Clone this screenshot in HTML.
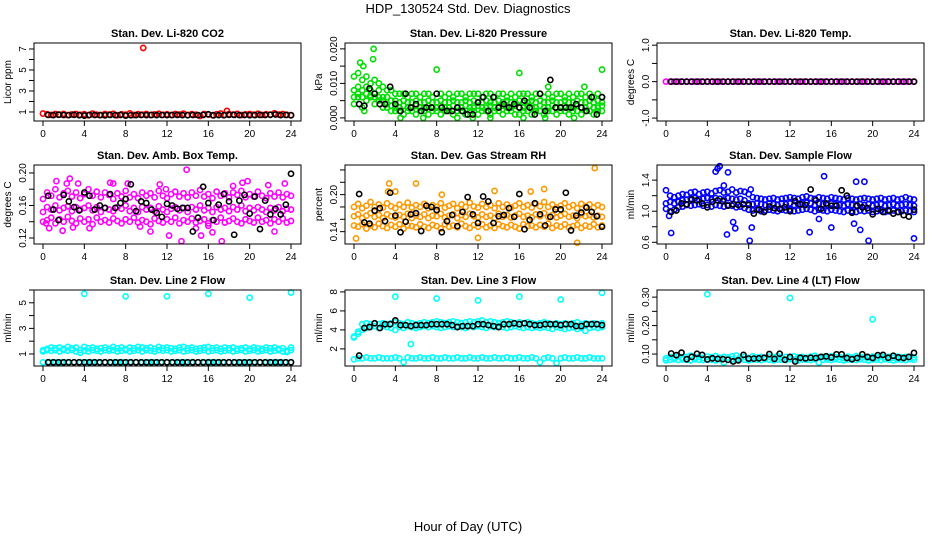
<!DOCTYPE html>
<html><head><meta charset="utf-8"><style>
body{margin:0;background:#fff;}
svg{display:block;font-family:"Liberation Sans",Arial,sans-serif;}
</style></head><body>
<svg id="chart" width="936" height="540" viewBox="0 0 936 540">
<text x="468" y="13" text-anchor="middle" font-size="13">HDP_130524  Std. Dev. Diagnostics</text>
<text x="468" y="531" text-anchor="middle" font-size="13">Hour of Day (UTC)</text>
</svg>
<script>
// ---- data ----
const blackHours = [0.5,1,1.5,2,2.5,3,3.5,4,4.5,5,5.5,6,6.5,7,7.5,8,8.5,9,9.5,10,10.5,11,11.5,12,12.5,13,13.5,14,14.5,15,15.5,16,16.5,17,17.5,18,18.5,19,19.5,20,20.5,21,21.5,22,22.5,23,23.5,24];
const xTicks = [0,4,8,12,16,20,24];

const co2A = [0.85,0.78,0.72,0.80,0.74,0.82,0.70,0.77,0.81,0.73,0.79,0.68,0.84,0.75,0.71,0.80,0.76,0.83,0.69,0.78,0.74,0.86,0.72,0.79,0.75,0.81,0.70,0.77,0.83,0.73,0.78,0.71,0.80,0.76,0.84,0.72,0.79,0.74,0.62,0.81,0.75,0.70,0.78,0.85,0.73,0.79,0.76,0.82,0.71,0.77,0.80,0.74,0.83,0.72,0.78,0.75,0.88,0.76,0.81,0.73,0.70];
const co2Black = [0.72,0.70,0.74,0.71,0.70,0.73,0.69,0.66,0.72,0.71,0.70,0.68,0.72,0.70,0.71,0.66,0.69,0.70,0.71,0.70,0.72,0.70,0.71,0.70,0.71,0.72,0.70,0.69,0.71,0.70,0.72,0.78,0.68,0.70,0.69,0.73,0.72,0.70,0.71,0.69,0.70,0.72,0.71,0.73,0.76,0.70,0.72,0.68];
const co2OutHours = [9.7,17.8];
const co2OutVals = [7.1,1.1];

const presA = [0.012,0.013,0.011,0.012,0.010,0.011,0.010,0.009,0.008,0.008,0.007,0.007,0.007,0.006,0.007,0.007,0.006,0.007,0.007,0.006,0.007,0.007,0.006,0.007,0.006,0.007,0.007,0.006,0.007,0.007,0.007,0.006,0.007,0.007,0.006,0.007,0.007,0.006,0.007,0.006,0.007,0.007,0.007,0.006,0.007,0.007,0.006,0.007,0.006,0.007,0.007,0.006,0.007,0.006,0.007,0.007,0.006,0.007,0.006,0.007,0.006];
const presB = [0.006,0.009,0.008,0.009,0.008,0.007,0.008,0.006,0.006,0.005,0.005,0.0045,0.005,0.0045,0.0045,0.005,0.0045,0.0045,0.005,0.0045,0.0045,0.005,0.0045,0.0045,0.005,0.0045,0.0045,0.005,0.0045,0.005,0.0045,0.0045,0.005,0.0045,0.0045,0.005,0.0045,0.005,0.0045,0.0045,0.005,0.0045,0.0045,0.005,0.0045,0.005,0.0045,0.0045,0.005,0.0045,0.0045,0.005,0.0045,0.0045,0.005,0.0045,0.0045,0.005,0.0045,0.005,0.0045];
const presC = [0.008,0.007,0.006,0.007,0.0065,0.006,0.006,0.005,0.004,0.0035,0.003,0.003,0.0035,0.003,0.003,0.0035,0.003,0.003,0.0035,0.003,0.003,0.0035,0.003,0.003,0.0035,0.003,0.003,0.0035,0.003,0.003,0.0035,0.003,0.003,0.0035,0.003,0.003,0.0035,0.003,0.003,0.0035,0.003,0.003,0.0035,0.003,0.003,0.0035,0.003,0.003,0.0035,0.003,0.003,0.0035,0.003,0.003,0.0035,0.003,0.003,0.0035,0.003,0.003,0.0035];
const presD = [0.004,0.006,0.003,0.005,0.006,0.004,0.005,0.003,0.003,0.002,0.002,0.002,0.001,0.002,0.002,0.001,0.002,0.002,0.001,0.002,0.002,0.001,0.002,0.002,0.001,0.002,0.002,0.001,0.002,0.002,0.001,0.002,0.002,0.001,0.002,0.002,0.001,0.002,0.002,0.001,0.001,0.002,0.002,0.001,0.002,0.002,0.001,0.002,0.002,0.001,0.002,0.002,0.001,0.002,0.002,0.001,0.002,0.002,0.001,0.002,0.002];
const presBlack = [0.004,0.0035,0.0085,0.007,0.004,0.004,0.009,0.004,0.002,0.007,0.003,0.004,0.002,0.003,0.003,0.007,0.003,0.002,0.002,0.003,0.002,0.001,0.001,0.0045,0.006,0.002,0.006,0.003,0.004,0.003,0.004,0.003,0.005,0.003,0.001,0.007,0.002,0.011,0.003,0.003,0.003,0.003,0.004,0.003,0.002,0.006,0.001,0.006];
const presOutHours = [0.6,0.9,1.9,1.85,8.0,16.0,24,18.8,22.3,4.5,6.7,10.0,11.5,13.2,16.4,18.5,21.3,1.0];
const presOutVals = [0.016,0.015,0.020,0.017,0.014,0.013,0.014,0.009,0.009,0.0,0.0,0.0,0.0,0.0,0.0,0.0,0.0,0.002];

const tempA = [0,0,0,0,0,0,0,0,0,0,0,0,0,0,0,0,0,0,0,0,0,0,0,0,0,0,0,0,0,0,0,0,0,0,0,0,0,0,0,0,0,0,0,0,0,0,0,0,0,0,0,0,0,0,0,0,0,0,0,0,0];
const tempBlack = [0,0,0,0,0,0,0,0,0,0,0,0,0,0,0,0,0,0,0,0,0,0,0,0,0,0,0,0,0,0,0,0,0,0,0,0,0,0,0,0,0,0,0,0,0,0,0,0];

const ambA = [0.168,0.176,0.172,0.18,0.17,0.175,0.178,0.171,0.176,0.169,0.174,0.18,0.172,0.177,0.17,0.176,0.173,0.168,0.175,0.171,0.178,0.17,0.174,0.169,0.176,0.172,0.175,0.17,0.178,0.172,0.169,0.174,0.177,0.171,0.175,0.17,0.176,0.172,0.179,0.171,0.174,0.169,0.177,0.172,0.175,0.17,0.176,0.173,0.178,0.17,0.174,0.171,0.177,0.172,0.169,0.175,0.171,0.176,0.17,0.174,0.172];
const ambB = [0.152,0.158,0.155,0.16,0.154,0.157,0.159,0.153,0.158,0.155,0.157,0.16,0.154,0.158,0.152,0.157,0.155,0.153,0.158,0.156,0.16,0.153,0.157,0.152,0.158,0.155,0.157,0.153,0.159,0.155,0.152,0.156,0.158,0.154,0.157,0.152,0.158,0.155,0.16,0.154,0.157,0.152,0.158,0.155,0.157,0.153,0.158,0.155,0.16,0.153,0.157,0.154,0.158,0.155,0.152,0.157,0.154,0.158,0.153,0.156,0.155];
const ambC = [0.14,0.142,0.145,0.138,0.143,0.14,0.146,0.141,0.138,0.144,0.14,0.143,0.137,0.145,0.14,0.142,0.139,0.144,0.141,0.138,0.143,0.14,0.145,0.139,0.142,0.14,0.137,0.144,0.141,0.139,0.143,0.14,0.145,0.138,0.142,0.14,0.144,0.139,0.141,0.143,0.138,0.142,0.14,0.145,0.139,0.141,0.144,0.14,0.138,0.143,0.141,0.139,0.145,0.14,0.142,0.138,0.143,0.14,0.144,0.139,0.141];
const ambBlack = [0.172,0.155,0.142,0.173,0.165,0.158,0.154,0.176,0.172,0.155,0.16,0.157,0.174,0.157,0.163,0.168,0.186,0.153,0.165,0.163,0.155,0.151,0.146,0.162,0.16,0.156,0.157,0.157,0.128,0.145,0.183,0.163,0.142,0.161,0.174,0.165,0.124,0.166,0.173,0.15,0.171,0.131,0.166,0.149,0.156,0.149,0.161,0.199];
const ambOutHours = [0.6,1.3,1.9,2.3,2.6,3.4,4.5,6.5,6.8,8.2,9.4,10.4,11.3,12.2,13.4,13.9,14.8,15.3,16.4,17.3,18.4,19.3,19.8,21.8,22.4,23.4,0.3,2.9,11.9,16.0];
const ambOutVals = [0.132,0.19,0.129,0.187,0.193,0.187,0.132,0.188,0.187,0.187,0.134,0.128,0.186,0.123,0.116,0.204,0.132,0.123,0.127,0.116,0.184,0.188,0.19,0.185,0.128,0.187,0.138,0.133,0.18,0.135];

const rhA = [0.18,0.185,0.178,0.182,0.188,0.18,0.184,0.179,0.186,0.181,0.178,0.184,0.18,0.187,0.179,0.183,0.18,0.185,0.178,0.183,0.18,0.186,0.179,0.182,0.185,0.178,0.184,0.18,0.187,0.181,0.179,0.185,0.18,0.183,0.178,0.186,0.18,0.184,0.179,0.182,0.186,0.18,0.183,0.179,0.185,0.181,0.188,0.18,0.184,0.179,0.182,0.186,0.18,0.183,0.178,0.185,0.181,0.184,0.179,0.183,0.18];
const rhB = [0.165,0.168,0.162,0.166,0.17,0.164,0.167,0.162,0.168,0.165,0.163,0.167,0.164,0.169,0.162,0.166,0.164,0.168,0.162,0.166,0.165,0.169,0.163,0.166,0.168,0.162,0.167,0.164,0.169,0.165,0.163,0.168,0.164,0.166,0.162,0.169,0.164,0.167,0.163,0.166,0.169,0.164,0.166,0.163,0.168,0.165,0.17,0.164,0.167,0.163,0.166,0.169,0.164,0.166,0.162,0.168,0.165,0.167,0.163,0.166,0.164];
const rhC = [0.15,0.148,0.152,0.145,0.15,0.147,0.153,0.149,0.146,0.151,0.148,0.152,0.145,0.15,0.149,0.147,0.152,0.148,0.146,0.151,0.149,0.145,0.152,0.148,0.15,0.147,0.153,0.149,0.146,0.151,0.148,0.152,0.147,0.15,0.146,0.152,0.149,0.147,0.151,0.148,0.145,0.152,0.149,0.15,0.147,0.151,0.148,0.153,0.146,0.15,0.148,0.152,0.147,0.149,0.151,0.146,0.15,0.148,0.152,0.147,0.15];
const rhBlack = [0.201,0.155,0.153,0.174,0.178,0.157,0.203,0.166,0.139,0.156,0.168,0.17,0.141,0.182,0.18,0.175,0.139,0.157,0.167,0.149,0.172,0.196,0.168,0.154,0.197,0.189,0.154,0.165,0.167,0.178,0.164,0.201,0.144,0.159,0.186,0.168,0.15,0.164,0.176,0.176,0.203,0.142,0.166,0.171,0.179,0.172,0.165,0.148];
const rhOutHours = [0.2,3.4,6.0,3.3,13.6,17.1,21.6,23.3,18.4,8.5,4.0,12.0];
const rhOutVals = [0.129,0.218,0.218,0.205,0.206,0.205,0.122,0.243,0.209,0.2,0.205,0.13];

const sfA = [1.27,1.2,1.18,1.2,1.22,1.21,1.24,1.25,1.22,1.24,1.25,1.23,1.26,1.27,1.24,1.25,1.28,1.24,1.26,1.25,1.22,1.18,1.17,1.16,1.15,1.16,1.17,1.15,1.16,1.17,1.18,1.17,1.16,1.18,1.19,1.17,1.16,1.18,1.17,1.16,1.18,1.17,1.16,1.15,1.17,1.16,1.15,1.16,1.17,1.16,1.15,1.16,1.17,1.15,1.16,1.17,1.15,1.16,1.18,1.16,1.15];
const sfB = [1.1,1.12,1.1,1.12,1.14,1.15,1.16,1.17,1.15,1.16,1.17,1.15,1.17,1.16,1.15,1.17,1.16,1.15,1.16,1.14,1.1,1.09,1.1,1.09,1.08,1.1,1.09,1.08,1.1,1.09,1.1,1.08,1.09,1.1,1.11,1.1,1.08,1.1,1.09,1.08,1.1,1.09,1.08,1.07,1.09,1.08,1.07,1.09,1.08,1.09,1.07,1.08,1.09,1.07,1.08,1.09,1.07,1.08,1.09,1.08,1.07];
const sfC = [1.03,1.0,1.02,1.05,1.06,1.08,1.07,1.08,1.09,1.07,1.08,1.06,1.08,1.07,1.06,1.08,1.07,1.05,1.06,1.04,1.02,1.01,1.02,1.0,1.01,1.02,1.01,1.0,1.02,1.01,1.02,1.0,1.01,1.02,1.03,1.02,1.0,1.02,1.01,1.0,1.02,1.01,1.0,0.99,1.01,1.0,0.99,1.01,1.0,1.01,0.99,1.0,1.01,0.99,1.0,1.01,0.99,1.0,1.01,1.0,0.99];
const sfBlack = [0.99,1.01,1.1,1.09,1.15,1.14,1.1,1.05,1.12,1.14,1.13,1.07,1.09,1.08,1.09,1.08,0.97,1.02,0.99,1.06,1.04,1.03,1.05,1.0,1.13,1.09,1.08,1.28,1.14,1.03,1.1,1.07,1.07,1.27,1.2,0.98,1.07,1.05,1.04,0.96,1.03,0.99,1.01,0.97,0.99,0.95,0.93,1.02];
const sfOutHours = [0.3,0.5,4.8,5.0,5.2,5.6,5.9,6.5,6.7,8.1,8.3,8.2,13.9,14.8,15.3,16.0,18.2,18.4,18.8,19.6,24.0,6.0,19.2];
const sfOutVals = [0.94,0.72,1.51,1.55,1.58,1.33,0.70,0.86,0.78,0.62,0.79,1.28,0.73,0.9,1.45,0.79,0.84,1.38,0.76,0.62,0.65,1.5,1.38];

const l2A = [1.2,1.4,1.5,1.45,1.5,1.4,1.55,1.45,1.5,1.1,1.55,1.45,1.5,1.4,1.45,1.5,1.4,1.55,1.45,1.5,1.4,1.5,1.45,1.55,1.5,1.45,1.5,1.4,1.55,1.45,1.5,1.45,1.4,1.5,1.55,1.45,1.5,1.4,1.45,1.5,1.55,1.45,1.5,1.4,1.5,1.45,1.5,1.4,1.45,1.5,1.4,1.5,1.45,1.4,1.5,1.45,1.5,1.4,1.45,1.15,1.5];
const l2B = [1.3,1.3,1.25,1.3,1.2,1.3,1.25,1.3,1.2,1.3,1.25,1.2,1.3,1.25,1.2,1.3,1.25,1.3,1.2,1.25,1.3,1.2,1.25,1.3,1.2,1.3,1.25,1.2,1.3,1.25,1.3,1.2,1.25,1.3,1.2,1.25,1.3,1.2,1.25,1.3,1.2,1.25,1.3,1.2,1.25,1.3,1.2,1.25,1.3,1.2,1.25,1.3,1.2,1.25,1.3,1.2,1.25,1.3,1.2,1.25,1.3];
const l2Low = [0.35,0.35,0.35,0.35,0.35,0.35,0.35,0.35,0.35,0.35,0.35,0.35,0.35,0.35,0.35,0.35,0.35,0.35,0.35,0.35,0.35,0.35,0.35,0.35,0.35,0.35,0.35,0.35,0.35,0.35,0.35,0.35,0.35,0.35,0.35,0.35,0.35,0.35,0.35,0.35,0.35];
const l2Black = [0.35,0.35,0.35,0.35,0.35,0.35,0.35,0.35,0.35,0.35,0.35,0.35,0.35,0.35,0.35,0.35,0.35,0.35,0.35,0.35,0.35,0.35,0.35,0.35,0.35,0.35,0.35,0.35,0.35,0.35,0.35,0.35,0.35,0.35,0.35,0.35,0.35,0.35,0.35,0.35,0.35,0.35,0.35,0.35,0.35,0.35,0.35,0.35];
const l2OutHours = [4,8,12,16,20,24];
const l2OutVals = [5.7,5.5,5.5,5.7,5.4,5.8];

const l3A = [3.3,3.8,4.6,4.7,4.6,4.7,4.6,4.7,4.6,4.7,4.8,4.7,4.6,4.8,4.7,4.6,4.7,4.8,4.7,4.8,4.9,4.8,4.7,4.8,4.9,4.8,4.7,4.8,4.9,4.8,4.9,5.0,4.8,4.9,4.8,4.7,4.8,4.9,4.8,4.7,4.8,4.7,4.8,4.7,4.6,4.7,4.8,4.7,4.6,4.7,4.6,4.7,4.6,4.7,4.8,4.6,4.7,4.6,4.7,4.6,4.7];
const l3B = [3.2,3.6,4.0,4.2,4.3,4.4,4.2,4.4,4.3,4.2,4.0,4.3,4.2,4.4,4.3,4.2,4.3,4.4,4.3,4.4,4.3,4.2,4.3,4.4,4.3,4.4,4.3,4.2,4.4,4.3,4.4,4.3,4.2,4.4,4.3,4.4,4.3,4.2,4.3,4.4,4.3,4.2,4.3,4.2,4.3,4.2,4.3,4.2,4.1,4.3,4.2,4.1,4.2,4.3,4.1,4.2,3.9,4.2,4.3,4.2,4.3];
const l3Low = [0.9,1.0,1.0,1.1,1.0,1.0,1.1,1.0,1.0,1.0,1.1,1.0,0.6,1.1,1.0,1.0,1.1,1.0,1.0,1.1,1.0,1.0,1.1,1.0,1.0,1.1,1.0,1.0,1.1,1.0,1.0,1.1,1.0,1.0,1.1,1.0,1.0,1.1,1.0,1.0,1.1,1.0,1.0,1.1,1.0,0.6,1.0,1.1,1.0,0.5,1.0,1.1,1.0,1.0,1.1,1.0,1.0,1.1,1.0,1.0,1.0];
const l3Black = [1.3,4.2,4.3,4.7,4.2,4.6,4.6,5.0,4.5,4.5,4.4,4.5,4.5,4.5,4.6,4.6,4.6,4.6,4.5,4.3,4.4,4.4,4.4,4.6,4.6,4.5,4.4,4.3,4.6,4.6,4.7,4.6,4.7,4.6,4.5,4.5,4.6,4.6,4.6,4.5,4.6,4.6,4.4,4.4,4.6,4.6,4.6,4.5];
const l3OutHours = [4,8,12,16,20,24,5.5];
const l3OutVals = [7.5,7.3,7.1,7.5,7.2,7.9,2.5];

const l4A = [0.085,0.09,0.088,0.092,0.087,0.09,0.094,0.088,0.09,0.086,0.091,0.089,0.093,0.087,0.09,0.088,0.092,0.095,0.089,0.09,0.086,0.092,0.088,0.09,0.087,0.091,0.089,0.093,0.088,0.09,0.086,0.092,0.089,0.09,0.087,0.091,0.094,0.088,0.09,0.087,0.092,0.089,0.09,0.086,0.091,0.088,0.093,0.089,0.09,0.087,0.091,0.088,0.092,0.089,0.09,0.087,0.091,0.088,0.09,0.089,0.088];
const l4B = [0.078,0.08,0.082,0.079,0.081,0.08,0.078,0.082,0.08,0.079,0.081,0.08,0.078,0.082,0.07,0.08,0.081,0.079,0.082,0.08,0.078,0.081,0.08,0.079,0.082,0.08,0.078,0.081,0.08,0.079,0.082,0.08,0.078,0.081,0.08,0.079,0.082,0.07,0.08,0.081,0.079,0.082,0.08,0.078,0.081,0.08,0.079,0.082,0.08,0.078,0.081,0.08,0.079,0.082,0.08,0.078,0.081,0.08,0.079,0.082,0.08];
const l4Black = [0.102,0.096,0.105,0.082,0.09,0.101,0.097,0.081,0.085,0.083,0.082,0.08,0.074,0.078,0.097,0.084,0.084,0.085,0.087,0.1,0.083,0.101,0.08,0.09,0.074,0.087,0.085,0.087,0.086,0.09,0.092,0.088,0.099,0.099,0.086,0.082,0.086,0.099,0.09,0.086,0.096,0.097,0.087,0.094,0.088,0.086,0.09,0.104];
const l4OutHours = [4,12,20];
const l4OutVals = [0.31,0.297,0.222];

// ---- layout ----
const colLeft = [34,345,657];
const rowTop = [43,165,290];
const rowBot = [121,244,366];
const boxW = 267;

const panels = [
 {name:'co2',title:'Stan. Dev. Li-820 CO2',ylab:'Licor ppm',col:0,row:0,ymin:0.14,ymax:7.57,ticks:[1,2,3,4,5,6,7],labels:[1,3,5,7],lf:v=>String(v),color:'#ff0000',bands:[co2A],black:co2Black,oh:co2OutHours,ov:co2OutVals},
 {name:'pressure',title:'Stan. Dev. Li-820 Pressure',ylab:'kPa',col:1,row:0,ymin:-0.0009,ymax:0.0217,ticks:[0,0.005,0.01,0.015,0.02],labels:[0,0.01,0.02],lf:v=>v.toFixed(3),color:'#00dd00',bands:[presA,presB,presC,presD],black:presBlack,oh:presOutHours,ov:presOutVals},
 {name:'temp',title:'Stan. Dev. Li-820 Temp.',ylab:'degrees C',col:2,row:0,ymin:-1.08,ymax:1.06,ticks:[-1,-0.5,0,0.5,1],labels:[-1,0,1],lf:v=>v.toFixed(1),color:'#ff00ff',bands:[tempA],black:tempBlack,oh:[],ov:[]},
 {name:'amb-temp',title:'Stan. Dev. Amb. Box Temp.',ylab:'degrees C',col:0,row:1,ymin:0.1126,ymax:0.2098,ticks:[0.12,0.14,0.16,0.18,0.2],labels:[0.12,0.16,0.2],lf:v=>v.toFixed(2),color:'#ff00ff',bands:[ambA,ambB,ambC],black:ambBlack,oh:ambOutHours,ov:ambOutVals},
 {name:'rh',title:'Stan. Dev. Gas Stream RH',ylab:'percent',col:1,row:1,ymin:0.12,ymax:0.248,ticks:[0.14,0.16,0.18,0.2,0.22,0.24],labels:[0.14,0.2],lf:v=>v.toFixed(2),color:'#ff9900',bands:[rhA,rhB,rhC],black:rhBlack,oh:rhOutHours,ov:rhOutVals},
 {name:'sample-flow',title:'Stan. Dev. Sample Flow',ylab:'ml/min',col:2,row:1,ymin:0.578,ymax:1.595,ticks:[0.6,0.8,1.0,1.2,1.4],labels:[0.6,1.0,1.4],lf:v=>v.toFixed(1),color:'#0000ff',bands:[sfA,sfB,sfC],black:sfBlack,oh:sfOutHours,ov:sfOutVals},
 {name:'line2-flow',title:'Stan. Dev. Line 2 Flow',ylab:'ml/min',col:0,row:2,ymin:0.06,ymax:6.0,ticks:[1,2,3,4,5,6],labels:[1,3,5],lf:v=>String(v),color:'#00ffff',bands:[l2A,l2B,l2Low],black:l2Black,oh:l2OutHours,ov:l2OutVals},
 {name:'line3-flow',title:'Stan. Dev. Line 3 Flow',ylab:'ml/min',col:1,row:2,ymin:0.2,ymax:8.2,ticks:[2,4,6,8],labels:[2,4,6,8],lf:v=>String(v),color:'#00ffff',bands:[l3A,l3B,l3Low],black:l3Black,oh:l3OutHours,ov:l3OutVals},
 {name:'line4-flow',title:'Stan. Dev. Line 4 (LT) Flow',ylab:'ml/min',col:2,row:2,ymin:0.058,ymax:0.325,ticks:[0.1,0.15,0.2,0.25,0.3],labels:[0.1,0.2,0.3],lf:v=>v.toFixed(2),color:'#00ffff',bands:[l4A,l4B],black:l4Black,oh:l4OutHours,ov:l4OutVals}
];

const svg = document.getElementById('chart');
const NS = 'http://www.w3.org/2000/svg';
function mk(tag, attrs, parent){
  const e = document.createElementNS(NS, tag);
  for (const k in attrs) e.setAttribute(k, attrs[k]);
  (parent||svg).appendChild(e);
  return e;
}

panels.forEach(p => {
  const L = colLeft[p.col], T = rowTop[p.row], B = rowBot[p.row], R = L + boxW;
  const xs = t => L + 9 + (t/24)*(boxW-19);
  const ys = v => B - (v - p.ymin)/(p.ymax - p.ymin)*(B - T);
  const g = mk('g', {});
  
  

  const title = mk('text', {x:(L+R)/2, y:T-6, 'text-anchor':'middle', 'font-size':11, 'font-weight':'bold'}, g);
  title.textContent = p.title;
  
  

  const yl = mk('text', {x:0, y:0, 'text-anchor':'middle', 'font-size':10, transform:`translate(${L-23},${(T+B)/2}) rotate(-90)`}, g);
  yl.textContent = p.ylab;
  
  

  const pts = mk('g', {fill:'none', 'stroke-width':1.6}, g);
  
  

  p.bands.forEach(arr => {
    arr.forEach((v, i) => {
      const c = mk('circle', {cx:xs(i*24/(arr.length-1)), cy:ys(v), r:2.6, stroke:p.color}, pts);
      
      
    });
  });
  p.oh.forEach((h, i) => {
    const c = mk('circle', {cx:xs(h), cy:ys(p.ov[i]), r:2.6, stroke:p.color}, pts);
    
    
  });
  p.black.forEach((v, i) => {
    const c = mk('circle', {cx:xs(blackHours[i]), cy:ys(v), r:2.6, stroke:'#000'}, pts);
    
    
  });

  const box = mk('rect', {x:L, y:T, width:boxW, height:B-T, fill:'none', stroke:'#000', 'stroke-width':1}, g);
  
  

  const xa = mk('g', {}, g);
  
  
  xTicks.forEach(t => {
    mk('line', {x1:xs(t), x2:xs(t), y1:B, y2:B+5, stroke:'#000'}, xa);
    const tx = mk('text', {x:xs(t), y:B+16, 'text-anchor':'middle', 'font-size':10}, xa);
    tx.textContent = t;
    
    
  });

  const ya = mk('g', {}, g);
  
  
  p.ticks.forEach(t => {
    mk('line', {x1:L-5, x2:L, y1:ys(t), y2:ys(t), stroke:'#000'}, ya);
  });
  p.labels.forEach(t => {
    const tx = mk('text', {x:0, y:0, 'text-anchor':'middle', 'font-size':10, transform:`translate(${L-8},${ys(t)}) rotate(-90)`}, ya);
    tx.textContent = p.lf(t);
    
    
  });
});
</script>
</body></html>
